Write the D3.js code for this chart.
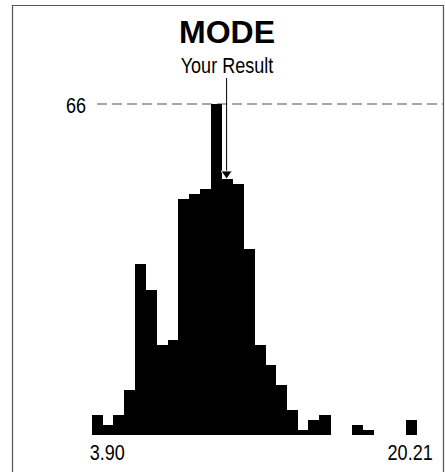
<!DOCTYPE html>
<html>
<head>
<meta charset="utf-8">
<script src="https://cdn.jsdelivr.net/npm/d3@7"></script>
<style>
  html, body { margin: 0; padding: 0; background: #fff; }
  svg { display: block; }
  text { font-family: "Liberation Sans", Arial, Helvetica, sans-serif; fill: #000; }
</style>
</head>
<body>
<svg id="chart" width="445" height="472"></svg>
<script>
// ---- data ----
const title = "MODE";
const resultLabel = "Your Result";
const xMin = 3.90;
const xMax = 20.21;
const counts = [4, 2, 4, 9, 34, 29, 18, 19, 47, 48, 49, 66, 51, 50, 37, 18, 14, 10, 5, 1, 3, 4, 0, 0, 2, 1, 0, 0, 0, 3];
const xTickValues = [3.90, 20.21];
const xTickLabels = ["3.90", "20.21"];
const yMaxValue = 66;
const yMaxLabel = "66";
const yourResult = 10.67;

// ---- chart ----
const svg = d3.select("#chart");
const binW = (xMax - xMin) / counts.length;
const bins = counts.map((c, i) => ({ x0: xMin + i * binW, x1: xMin + (i + 1) * binW, c }));

const x = d3.scaleLinear().domain([xMin, xMax]).range([91.7, 416.7]);
const y = d3.scaleLinear().domain([0, yMaxValue]).range([435, 104]);

const NARROW = 0.82;
function narrowText(px, py, str, size, anchor) {
  return svg.append("text")
    .attr("transform", `translate(${px},${py}) scale(${NARROW},1)`)
    .attr("text-anchor", anchor)
    .attr("font-size", size)
    .text(str);
}

// frame
svg.append("path")
  .attr("d", "M12.5,480 V5.5 H443.5 V480")
  .attr("fill", "none")
  .attr("stroke", "#555")
  .attr("stroke-width", 1.2);

// title
svg.append("text")
  .attr("x", 227).attr("y", 43)
  .attr("text-anchor", "middle")
  .attr("font-size", 32).attr("font-weight", "bold")
  .text(title);

narrowText(227, 73, resultLabel, 22, "middle");

// max dashed line
svg.append("line")
  .attr("x1", 97).attr("x2", 443)
  .attr("y1", y(yMaxValue)).attr("y2", y(yMaxValue))
  .attr("stroke", "#888").attr("stroke-width", 1.3)
  .attr("stroke-dasharray", "10,5");

narrowText(86, y(yMaxValue) + 8.5, yMaxLabel, 22, "end");

// bars
svg.append("g").attr("shape-rendering", "crispEdges").selectAll("rect")
  .data(bins.filter(d => d.c > 0))
  .join("rect")
  .attr("x", d => x(d.x0))
  .attr("width", d => x(d.x1) - x(d.x0) + 0.6)
  .attr("y", d => y(d.c))
  .attr("height", d => y(0) - y(d.c))
  .attr("fill", "#000");

// result arrow
const rx = x(yourResult);
svg.append("line")
  .attr("x1", rx).attr("x2", rx)
  .attr("y1", 78).attr("y2", 176)
  .attr("stroke", "#000").attr("stroke-width", 1);
svg.append("path")
  .attr("d", `M${rx - 5.5},171 L${rx + 5.5},171 L${rx},179 Z`)
  .attr("fill", "#000")
  .attr("stroke", "#fff").attr("stroke-width", 0.8);

// x tick labels
xTickValues.forEach((v, i) => {
  if (i === 0) narrowText(x(v) - 2, 460, xTickLabels[i], 22, "start");
  else narrowText(x(v) + 16, 460, xTickLabels[i], 22, "end");
});
</script>
</body>
</html>
